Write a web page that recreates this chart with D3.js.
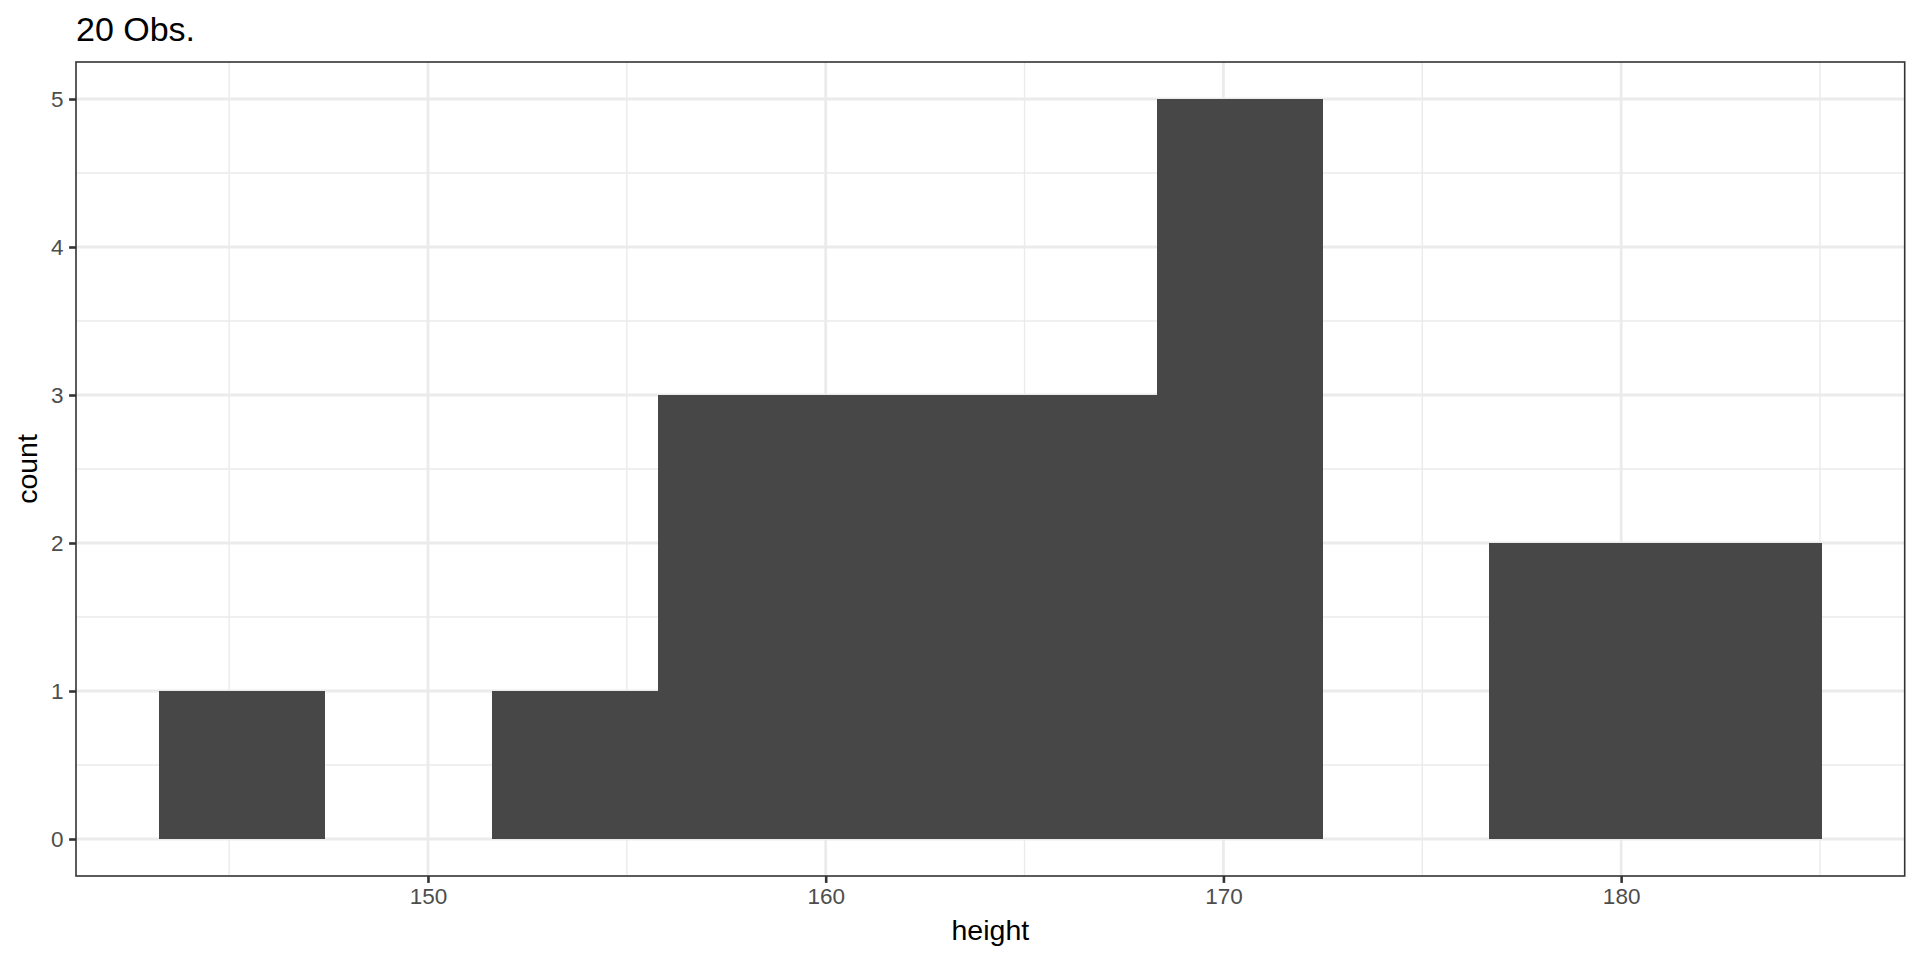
<!DOCTYPE html>
<html>
<head>
<meta charset="utf-8">
<script src="https://cdn.jsdelivr.net/npm/d3@7"></script>
<style>
  body { margin: 0; background: #fff; }
  text { font-family: "Liberation Sans", Arial, sans-serif; }
</style>
</head>
<body>
<div id="chart"></div>
<script>
// histogram bins
const binEdges = [143.24, 147.42, 151.60, 155.78, 159.96, 164.14, 168.32, 172.50, 176.68, 180.86, 185.04];
const counts = [1, 0, 1, 3, 3, 3, 5, 0, 2, 2];
const xTicks = [150, 160, 170, 180];
const xMinor = [145, 155, 165, 175, 185];
const yTicks = [0, 1, 2, 3, 4, 5];
const yMinor = [0.5, 1.5, 2.5, 3.5, 4.5];
const title = '20 Obs.';

const width = 1920;
const height = 960;
const margin = { top: 62, right: 15.3, bottom: 84, left: 76 };
const innerW = width - margin.left - margin.right;
const innerH = height - margin.top - margin.bottom;

const bins = counts.map((c, i) => ({ x0: binEdges[i], x1: binEdges[i + 1], count: c }));

const svg = d3.select('#chart')
  .append('svg')
    .attr('width', width)
    .attr('height', height);

const g = svg.append('g')
  .attr('transform', `translate(${margin.left}, ${margin.top})`);

// 5% expansion like ggplot
const xr = binEdges[binEdges.length - 1] - binEdges[0];
const xScale = d3.scaleLinear()
  .domain([binEdges[0] - xr * 0.05, binEdges[binEdges.length - 1] + xr * 0.05])
  .range([0, innerW]);

const yMax = d3.max(counts);
const yScale = d3.scaleLinear()
  .domain([-yMax * 0.05, yMax * 1.05])
  .range([innerH, 0]);

// grid
g.selectAll('.minor-x')
  .data(xMinor)
  .enter().append('line')
    .attr('x1', d => xScale(d)).attr('x2', d => xScale(d))
    .attr('y1', 0).attr('y2', innerH)
    .attr('stroke', '#ebebeb').attr('stroke-width', 1.4);

g.selectAll('.minor-y')
  .data(yMinor)
  .enter().append('line')
    .attr('y1', d => yScale(d)).attr('y2', d => yScale(d))
    .attr('x1', 0).attr('x2', innerW)
    .attr('stroke', '#ebebeb').attr('stroke-width', 1.4);

g.selectAll('.major-x')
  .data(xTicks)
  .enter().append('line')
    .attr('x1', d => xScale(d)).attr('x2', d => xScale(d))
    .attr('y1', 0).attr('y2', innerH)
    .attr('stroke', '#ebebeb').attr('stroke-width', 2.8);

g.selectAll('.major-y')
  .data(yTicks)
  .enter().append('line')
    .attr('y1', d => yScale(d)).attr('y2', d => yScale(d))
    .attr('x1', 0).attr('x2', innerW)
    .attr('stroke', '#ebebeb').attr('stroke-width', 2.8);

// bars
g.selectAll('rect.bar')
  .data(bins.filter(d => d.count > 0))
  .enter().append('rect')
    .attr('class', 'bar')
    .attr('x', d => xScale(d.x0))
    .attr('width', d => xScale(d.x1) - xScale(d.x0))
    .attr('y', d => yScale(d.count))
    .attr('height', d => yScale(0) - yScale(d.count))
    .attr('shape-rendering', 'crispEdges')
    .style('fill', '#474747');

// panel border
g.append('rect')
  .attr('x', 0).attr('y', 0)
  .attr('width', innerW).attr('height', innerH)
  .attr('fill', 'none')
  .attr('stroke', '#333333')
  .attr('stroke-width', 1.6);

// axes
const xAxis = g.append('g')
  .attr('transform', `translate(0, ${innerH})`)
  .call(d3.axisBottom(xScale).tickValues(xTicks).tickSize(6.9).tickPadding(5));

const yAxis = g.append('g')
  .call(d3.axisLeft(yScale).tickValues(yTicks).tickFormat(d3.format('d')).tickSize(6.9).tickPadding(5.5));

[xAxis, yAxis].forEach(a => {
  a.select('.domain').remove();
  a.selectAll('.tick line').attr('stroke', '#333333').attr('stroke-width', 2.6);
  a.selectAll('.tick text')
    .attr('fill', '#4d4d4d')
    .style('font-size', '22.5px')
    .style('font-family', '"Liberation Sans", Arial, sans-serif');
});

// titles
svg.append('text')
  .attr('x', margin.left + innerW / 2)
  .attr('y', 940)
  .attr('text-anchor', 'middle')
  .style('font-size', '28.5px')
  .attr('fill', '#000')
  .text('height');

svg.append('text')
  .attr('transform', `translate(36.5, ${margin.top + innerH / 2}) rotate(-90)`)
  .attr('text-anchor', 'middle')
  .style('font-size', '28.5px')
  .attr('fill', '#000')
  .text('count');

svg.append('text')
  .attr('x', 76)
  .attr('y', 40.5)
  .style('font-size', '34px')
  .attr('fill', '#000')
  .text(title);
</script>
</body>
</html>
